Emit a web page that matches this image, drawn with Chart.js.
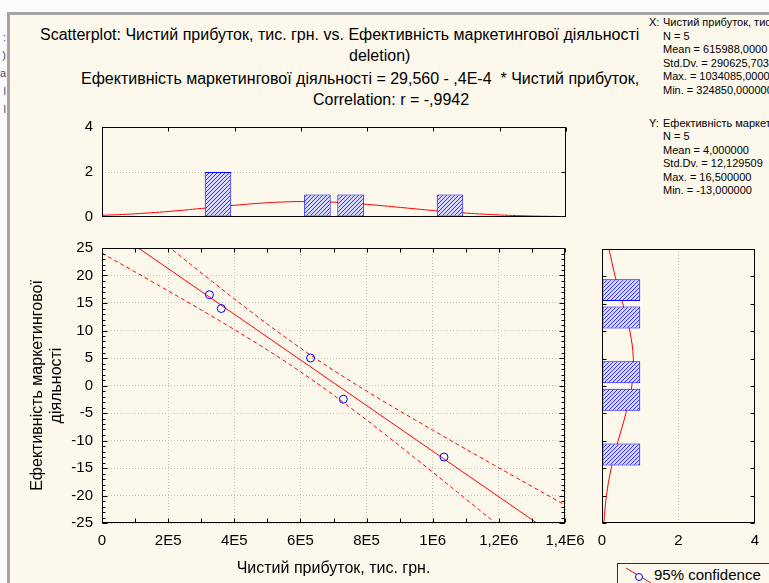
<!DOCTYPE html>
<html>
<head>
<meta charset="utf-8">
<script src="https://cdn.jsdelivr.net/npm/chart.js@4.4.1/dist/chart.umd.min.js"></script>
<style>
  html, body { margin: 0; padding: 0; width: 769px; height: 583px; overflow: hidden; background: #fbfbfb; font-family: "Liberation Sans", Arial, sans-serif; color: #000; }
  #panel { position: absolute; left: 7px; top: 12px; width: 762px; height: 571px; background: #fdf8ec; border-left: 3px solid #a4a4a4; border-top: 3px solid #a4a4a4; box-sizing: border-box; }
  #titles { position: absolute; left: 0; top: 0; width: 642px; height: 118px; overflow: hidden; }
  #titles div { position: absolute; white-space: nowrap; font-size: 16px; line-height: 20px; }
  .stat { position: absolute; white-space: nowrap; font-size: 11px; line-height: 13px; }
  #edge { position: absolute; left: 0; top: 28px; width: 6px; overflow: hidden; font-size: 11px; line-height: 18px; color: #4a4a7a; text-align: right; }
  #legend { position: absolute; left: 617px; top: 563px; width: 170px; height: 30px; border: 1px solid #303030; background: #fdf8ec; }
  #legend span { position: absolute; left: 36px; top: 1px; font-size: 15px; line-height: 20px; white-space: nowrap; }
  canvas { position: absolute; }
</style>
</head>
<body>
<div id="panel"></div>
<div id="edge">:<br>)<br>a<br>l<br>l</div>

<div id="titles">
  <div style="left:40px; top:25px;">Scatterplot: Чистий прибуток, тис. грн. vs. Ефективність маркетингової діяльності (Casewise MD</div>
  <div style="left:349px; top:46px;">deletion)</div>
  <div style="left:81px; top:69px;">Ефективність маркетингової діяльності = 29,560 - ,4E-4 &nbsp;* Чистий прибуток, тис. грн.</div>
  <div style="left:313px; top:90px;">Correlation: r = -,9942</div>
</div>

<div class="stat" style="left:649px; top:16px;">X:</div>
<div class="stat" style="left:663px; top:16px;">Чистий прибуток, тис. грн.</div>
<div class="stat" style="left:663px; top:30px;">N = 5</div>
<div class="stat" style="left:663px; top:43px;">Mean = 615988,0000</div>
<div class="stat" style="left:663px; top:57px;">Std.Dv. = 290625,7033</div>
<div class="stat" style="left:663px; top:70px;">Max. = 1034085,0000</div>
<div class="stat" style="left:663px; top:84px;">Min. = 324850,000000</div>

<div class="stat" style="left:649px; top:117px;">Y:</div>
<div class="stat" style="left:663px; top:117px;">Ефективність маркетингової діяльності</div>
<div class="stat" style="left:663px; top:130px;">N = 5</div>
<div class="stat" style="left:663px; top:144px;">Mean = 4,000000</div>
<div class="stat" style="left:663px; top:157px;">Std.Dv. = 12,129509</div>
<div class="stat" style="left:663px; top:171px;">Max. = 16,500000</div>
<div class="stat" style="left:663px; top:184px;">Min. = -13,000000</div>

<canvas id="topHist" width="585" height="120" style="left:0; top:110px;"></canvas>
<canvas id="scatter" width="585" height="353" style="left:0; top:230px;"></canvas>
<canvas id="sideHist" width="184" height="353" style="left:585px; top:230px;"></canvas>

<div id="legend">
  <svg width="34" height="22" style="position:absolute; left:0; top:0;">
    <line x1="8" y1="4" x2="33" y2="19" stroke="#ff0000" stroke-width="1"></line>
    <circle cx="21" cy="13" r="3.5" fill="#fdf8ec" stroke="#0000ff" stroke-width="1"></circle>
  </svg>
  <span>95% confidence</span>
</div>

<script>
// cases: net profit (x) and marketing efficiency (y)
const profit = [324850, 360600, 630700, 729705, 1034085];
const efficiency = [16.5, 14, 5, -2.5, -13];

// fitted line and 95% band
const fitX = [0, 1400000];
const fitY = [29.56, -28.54];
const bandX = [0, 100000, 200000, 300000, 400000, 500000, 600000, 700000, 800000, 900000, 1000000, 1100000, 1200000, 1300000, 1400000];
const bandUpper = [35.07, 30.18, 25.31, 20.49, 15.75, 11.16, 6.81, 2.76, -1.01, -4.61, -8.11, -11.56, -14.97, -18.35, -21.73];
const bandLower = [24.05, 20.64, 17.21, 13.73, 10.17, 6.46, 2.51, -1.74, -6.27, -10.97, -15.77, -20.62, -25.51, -30.43, -35.35];

// histogram of x (top) with normal curve
const xBinCenters = [350000, 650000, 750000, 1050000];
const xBinCounts = [2, 1, 1, 1];
const xNormAt = bandX;
const xNormCount = [0.073, 0.142, 0.246, 0.380, 0.521, 0.634, 0.685, 0.658, 0.562, 0.426, 0.287, 0.172, 0.091, 0.043, 0.018];

// histogram of y (right) with normal curve
const yBinCenters = [17.5, 12.5, 2.5, -2.5, -12.5];
const yBinCounts = [1, 1, 1, 1, 1];
const yNormAt = [25, 20, 15, 10, 5, 0, -5, -10, -15, -20, -25];
const yNormCount = [0.184, 0.344, 0.545, 0.727, 0.819, 0.779, 0.624, 0.422, 0.241, 0.116, 0.047];

const xTickLabels = ["0", "2E5", "4E5", "6E5", "8E5", "1E6", "1,2E6", "1,4E6"];

const FONT = { family: '"Liberation Sans", Arial, sans-serif', size: 15 };
const TITLE_FONT = { family: '"Liberation Sans", Arial, sans-serif', size: 16 };
const GRID = "#c4c4c4";
const RED = "#ff0000";
const BLUE = "#0000ff";

Chart.defaults.font = FONT;
Chart.defaults.color = "#000";
Chart.defaults.animation = false;

function makeHatch() {
  const c = document.createElement("canvas");
  c.width = 4;
  c.height = 4;
  const g = c.getContext("2d");
  g.fillStyle = "#d8d8ff";
  g.fillRect(0, 0, 4, 4);
  g.strokeStyle = "#3030ff";
  g.lineWidth = 1;
  g.beginPath();
  g.moveTo(0, 4); g.lineTo(4, 0);
  g.moveTo(-1, 1); g.lineTo(1, -1);
  g.moveTo(3, 5); g.lineTo(5, 3);
  g.stroke();
  return g.createPattern(c, "repeat");
}
const hatch = makeHatch();

// black frame round the plot area plus Statistica-style inward ticks
const framePlugin = {
  id: "frame",
  afterDraw(chart, args, opts) {
    const { ctx, chartArea: a, scales } = chart;
    const L = Math.round(a.left) + 0.5, T = Math.round(a.top) + 0.5;
    const R = Math.round(a.right) - 0.5, B = Math.round(a.bottom) - 0.5;
    ctx.save();
    ctx.strokeStyle = "#000";
    ctx.lineWidth = 1;
    ctx.beginPath();
    (opts.marks || []).forEach((m) => {
      for (let v = m.from; v <= m.to + 1e-9; v += m.step) {
        if (m.axis === "x") {
          const px = Math.round(scales.x.getPixelForValue(v)) + 0.5;
          if (m.sides.includes("top")) { ctx.moveTo(px, T); ctx.lineTo(px, T + m.len); }
          if (m.sides.includes("bottom")) { ctx.moveTo(px, B); ctx.lineTo(px, B - m.len); }
        } else {
          const py = Math.round(scales.y.getPixelForValue(v)) + 0.5;
          if (m.sides.includes("left")) { ctx.moveTo(L, py); ctx.lineTo(L + m.len, py); }
          if (m.sides.includes("right")) { ctx.moveTo(R, py); ctx.lineTo(R - m.len, py); }
        }
      }
    });
    ctx.stroke();
    ctx.strokeRect(L, T, R - L, B - T);
    ctx.restore();
  },
};
Chart.register(framePlugin);

const pts = (xs, ys) => xs.map((x, i) => ({ x, y: ys[i] }));
const noPad = (s) => { s.paddingLeft = 0; s.paddingRight = 0; s.paddingTop = 0; s.paddingBottom = 0; };

// main scatterplot
new Chart(document.getElementById("scatter"), {
  type: "scatter",
  data: {
    datasets: [
      {
        data: pts(profit, efficiency),
        pointStyle: "circle",
        pointRadius: 4,
        borderColor: BLUE,
        backgroundColor: "rgba(0,0,0,0)",
        borderWidth: 1,
      },
      {
        data: pts(fitX, fitY),
        showLine: true,
        borderColor: RED,
        borderWidth: 1,
        pointRadius: 0,
      },
      {
        data: pts(bandX, bandUpper),
        showLine: true,
        borderColor: RED,
        borderWidth: 1,
        borderDash: [4, 3],
        pointRadius: 0,
        cubicInterpolationMode: "monotone",
      },
      {
        data: pts(bandX, bandLower),
        showLine: true,
        borderColor: RED,
        borderWidth: 1,
        borderDash: [4, 3],
        pointRadius: 0,
        cubicInterpolationMode: "monotone",
      },
    ],
  },
  options: {
    responsive: false,
    layout: { autoPadding: false, padding: { left: 0, top: 18, right: 20, bottom: 0 } },
    plugins: {
      legend: { display: false },
      tooltip: { enabled: false },
      frame: {
        marks: [
          { axis: "x", from: 0, to: 1400000, step: 100000, len: 4, sides: ["top", "bottom"] },
          { axis: "y", from: -25, to: 25, step: 1, len: 3, sides: ["left", "right"] },
          { axis: "y", from: -25, to: 25, step: 5, len: 5, sides: ["left", "right"] },
        ],
      },
    },
    scales: {
      x: {
        type: "linear",
        min: 0,
        max: 1400000,
        ticks: { stepSize: 200000, padding: 9, maxRotation: 0, callback: (v, i) => xTickLabels[i] },
        grid: { color: GRID, drawTicks: false },
        border: { display: false, dash: [1, 2] },
        title: { display: true, text: "Чистий прибуток, тис. грн.", font: TITLE_FONT, padding: { top: 0, bottom: 5 } },
        afterFit: (s) => { s.height = 60; noPad(s); },
      },
      y: {
        type: "linear",
        min: -25,
        max: 25,
        ticks: { stepSize: 5, padding: 9 },
        grid: { color: GRID, drawTicks: false },
        border: { display: false, dash: [1, 2] },
        title: { display: true, text: ["Ефективність маркетингової", "діяльності"], font: TITLE_FONT, padding: { top: 28, bottom: 0 } },
        afterFit: (s) => { s.width = 102; noPad(s); },
      },
    },
  },
});

// histogram of x above the plot
new Chart(document.getElementById("topHist"), {
  type: "bar",
  data: {
    datasets: [
      {
        data: pts(xBinCenters, xBinCounts),
        backgroundColor: hatch,
        borderColor: BLUE,
        borderWidth: 1,
        borderSkipped: false,
        barPercentage: 1,
        categoryPercentage: 0.8,
      },
      {
        type: "line",
        data: pts(xNormAt, xNormCount),
        borderColor: RED,
        borderWidth: 1,
        pointRadius: 0,
        tension: 0.4,
      },
    ],
  },
  options: {
    responsive: false,
    layout: { autoPadding: false, padding: { left: 0, top: 17, right: 19, bottom: 13 } },
    plugins: {
      legend: { display: false },
      tooltip: { enabled: false },
      frame: {
        marks: [
          { axis: "x", from: 0, to: 1400000, step: 200000, len: 4, sides: ["top"] },
          { axis: "y", from: 2, to: 2, step: 2, len: 4, sides: ["right"] },
        ],
      },
    },
    scales: {
      x: { type: "linear", min: 0, max: 1400000, offset: false, display: false, ticks: { stepSize: 200000 } },
      y: {
        min: 0,
        max: 4,
        ticks: { stepSize: 2, padding: 9 },
        grid: { color: (c) => (c.tick && c.tick.value === 2 ? GRID : "rgba(0,0,0,0)"), drawTicks: false },
        border: { display: false, dash: [1, 2] },
        afterFit: (s) => { s.width = 102; noPad(s); },
      },
    },
  },
});

// histogram of y to the right of the plot
new Chart(document.getElementById("sideHist"), {
  type: "bar",
  data: {
    datasets: [
      {
        data: pts(yBinCounts, yBinCenters),
        backgroundColor: hatch,
        borderColor: BLUE,
        borderWidth: 1,
        borderSkipped: false,
        barPercentage: 1,
        categoryPercentage: 0.8,
      },
      {
        type: "line",
        data: pts(yNormCount, yNormAt),
        borderColor: RED,
        borderWidth: 1,
        pointRadius: 0,
        tension: 0.4,
      },
    ],
  },
  options: {
    responsive: false,
    indexAxis: "y",
    layout: { autoPadding: false, padding: { left: 17, top: 19, right: 14, bottom: 0 } },
    plugins: {
      legend: { display: false },
      tooltip: { enabled: false },
      frame: {
        marks: [
          { axis: "y", from: -25, to: 25, step: 5, len: 4, sides: ["left", "right"] },
        ],
      },
    },
    scales: {
      y: { type: "linear", min: -25, max: 25, offset: false, display: false, ticks: { stepSize: 5 } },
      x: {
        type: "linear",
        min: 0,
        max: 4,
        offset: false,
        ticks: { stepSize: 2, padding: 9 },
        grid: { color: (c) => (c.tick && c.tick.value === 2 ? GRID : "rgba(0,0,0,0)"), drawTicks: false, offset: false },
        border: { display: false, dash: [1, 2] },
        afterFit: (s) => { s.height = 60; noPad(s); },
      },
    },
  },
});
</script>
</body>
</html>
